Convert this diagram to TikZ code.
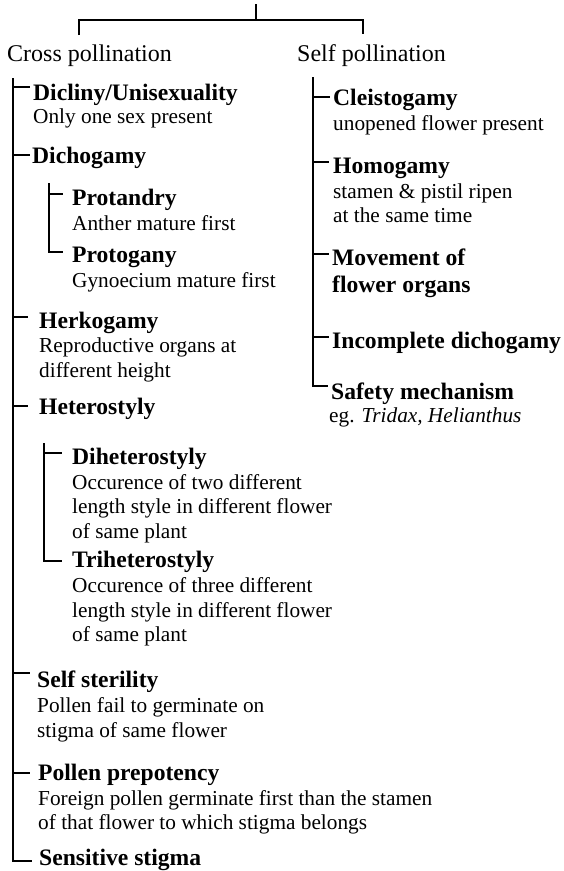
\documentclass[tikz,border=0pt]{standalone}
\usepackage{fontspec}
\setmainfont{Liberation Serif}
\begin{document}
\begin{tikzpicture}[x=1pt,y=-1pt,
  br/.style={line width=1.9pt},
  toptxt/.style={anchor=base west,inner sep=0pt,font=\fontsize{24}{28}\selectfont},
  hd/.style={anchor=base west,inner sep=0pt,font=\fontsize{23.6}{28}\selectfont\bfseries},
  tx/.style={anchor=base west,inner sep=0pt,font=\fontsize{21.3}{25}\selectfont}]
\useasboundingbox (0,0) rectangle (564,871);

% ---- top bracket ----
\coordinate (root) at (256,4);
\coordinate (rootb) at (256,20);
\coordinate (hl) at (79,20);
\coordinate (hr) at (363,20);
\coordinate (hld) at (79,35);
\coordinate (hrd) at (363,34);
\draw[br] (root) -- (rootb);
\draw[br] (hld) -- (hl) -- (hr) -- (hrd);

\node[toptxt] (cross) at (7,61) {Cross pollination};
\node[toptxt] (self) at (297,61) {Self pollination};

% ---- left column ----
\node[hd] (dic) at (33,100) {Dicliny/Unisexuality};
\node[tx] (dic1) at (33,123) {Only one sex present};
\node[hd] (dich) at (32,163) {Dichogamy};
\node[hd] (pand) at (72,205) {Protandry};
\node[tx] (pand1) at (72,230) {Anther mature first};
\node[hd] (pgyn) at (72,262) {Protogany};
\node[tx] (pgyn1) at (72,287) {Gynoecium mature first};
\node[hd] (herk) at (39,328) {Herkogamy};
\node[tx] (herk1) at (39,352) {Reproductive organs at};
\node[tx] (herk2) at (39,377) {different height};
\node[hd] (het) at (39,414) {Heterostyly};
\node[hd] (dih) at (72,464) {Diheterostyly};
\node[tx] (dih1) at (72,489) {Occurence of two different};
\node[tx] (dih2) at (72,513) {length style in different flower};
\node[tx] (dih3) at (72,538) {of same plant};
\node[hd] (trih) at (72,567) {Triheterostyly};
\node[tx] (trih1) at (72,592) {Occurence of three different};
\node[tx] (trih2) at (72,617) {length style in different flower};
\node[tx] (trih3) at (72,641) {of same plant};
\node[hd] (sst) at (37,687) {Self sterility};
\node[tx] (sst1) at (37,712) {Pollen fail to germinate on};
\node[tx] (sst2) at (37,737) {stigma of same flower};
\node[hd] (ppr) at (38,780) {Pollen prepotency};
\node[tx] (ppr1) at (38,805) {Foreign pollen germinate first than the stamen};
\node[tx] (ppr2) at (38,829) {of that flower to which stigma belongs};
\node[hd] (sens) at (39,865) {Sensitive stigma};

% left trunk
\coordinate (L0) at (13,78);
\coordinate (Lb) at (13,861);
\coordinate (Lf) at (32,861);
\draw[br] (L0) -- (Lb) -- (Lf);
\coordinate (kdic) at (30,87);
\coordinate (kdich) at (30,155);
\coordinate (kherk) at (28,317);
\coordinate (khet) at (28,406);
\coordinate (ksst) at (30,673);
\coordinate (kppr) at (30,773);
\foreach \k in {kdic,kdich,kherk,khet,ksst,kppr}
  \draw[br] (\k -| L0) -- (\k);

% dichogamy sub-branch
\coordinate (S0) at (49,183);
\coordinate (Sb) at (49,252);
\coordinate (Sf) at (63,252);
\coordinate (kpand) at (63,194);
\draw[br] (S0) -- (Sb) -- (Sf);
\draw[br] (kpand -| S0) -- (kpand);

% heterostyly sub-branch
\coordinate (H0) at (44,443);
\coordinate (Hb) at (44,561);
\coordinate (Hf) at (62,561);
\coordinate (kdih) at (62,453);
\draw[br] (H0) -- (Hb) -- (Hf);
\draw[br] (kdih -| H0) -- (kdih);

% ---- right column ----
\node[hd] (cle) at (333,105) {Cleistogamy};
\node[tx] (cle1) at (333,130) {unopened flower present};
\node[hd] (hom) at (333,173) {Homogamy};
\node[tx] (hom1) at (333,198) {stamen \& pistil ripen};
\node[tx] (hom2) at (333,222) {at the same time};
\node[hd] (mov) at (332,265) {Movement of};
\node[hd] (mov2) at (332,292) {flower organs};
\node[hd] (inc) at (332,348) {Incomplete dichogamy};
\node[hd] (saf) at (331,399) {Safety mechanism};
\node[tx] (saf1) at (329,422) {eg. \textit{Tridax, Helianthus}};

\coordinate (R0) at (313,77);
\coordinate (Rb) at (313,386);
\coordinate (Rf) at (328,386);
\draw[br] (R0) -- (Rb) -- (Rf);
\coordinate (kcle) at (330,97);
\coordinate (khom) at (329,162);
\coordinate (kmov) at (329,254);
\coordinate (kinc) at (329,337);
\foreach \k in {kcle,khom,kmov,kinc}
  \draw[br] (\k -| R0) -- (\k);
\end{tikzpicture}
\end{document}
